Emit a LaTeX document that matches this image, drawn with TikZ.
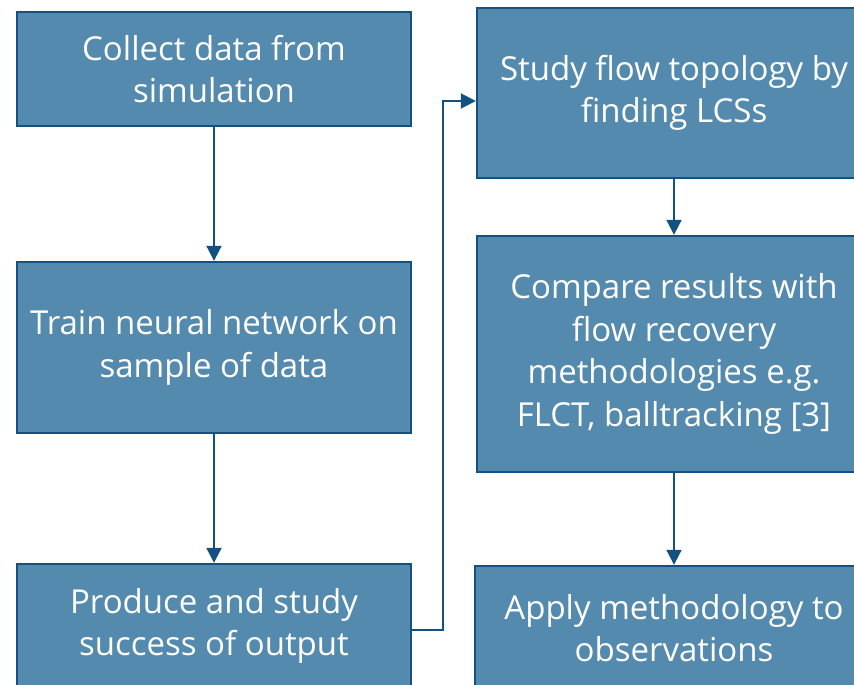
\documentclass[tikz,border=0pt]{standalone}
\usepackage{fontspec}
\setmainfont{Open Sans}
\usetikzlibrary{arrows.meta}
\definecolor{boxfill}{RGB}{84,138,173}
\definecolor{boxline}{RGB}{17,82,130}
\tikzset{
  flowbox/.style={draw=boxline, line width=2.4pt, fill=boxfill, text=white,
    align=center, inner sep=0pt, font=\fontsize{33}{42.5}\selectfont},
  conn/.style={draw=boxline, line width=2pt, -{Triangle[length=15pt,width=15pt]}}
}
\begin{document}
\begin{tikzpicture}[x=1pt,y=-1pt]
\useasboundingbox (0,0) rectangle (854,685);
\begin{scope}
\clip (0,0) rectangle (854,685);
\node[flowbox, minimum width=394pt, minimum height=114pt] (b1) at (214,69) {Collect data from\\simulation};
\node[flowbox, minimum width=394pt, minimum height=171pt] (b2) at (214,347.5) {Train neural network on\\sample of data};
\node[flowbox, minimum width=394pt, minimum height=124pt] (b3) at (214,626) {Produce and study\\success of output};
\node[flowbox, minimum width=394pt, minimum height=170pt] (b4) at (674,93) {Study flow topology by\\finding LCSs};
\node[flowbox, minimum width=394pt, minimum height=236pt] (b5) at (674,354) {Compare results with\\flow recovery\\methodologies e.g.\\FLCT, balltracking [3]};
\node[flowbox, minimum width=398pt, minimum height=124pt] (b6) at (674,628) {Apply methodology to\\observations};
\coordinate (m1) at (443,630);
\coordinate (m2) at (443,101);
\draw[conn] (b1.south) -- (b2.north);
\draw[conn] (b2.south) -- (b3.north);
\draw[conn] (b3.east |- m1) -- (m1) -- (m2) -- (b4.west |- m2);
\draw[conn] (b4.south) -- (b5.north);
\draw[conn] (b5.south) -- (b6.north);
\end{scope}
\end{tikzpicture}
\end{document}
